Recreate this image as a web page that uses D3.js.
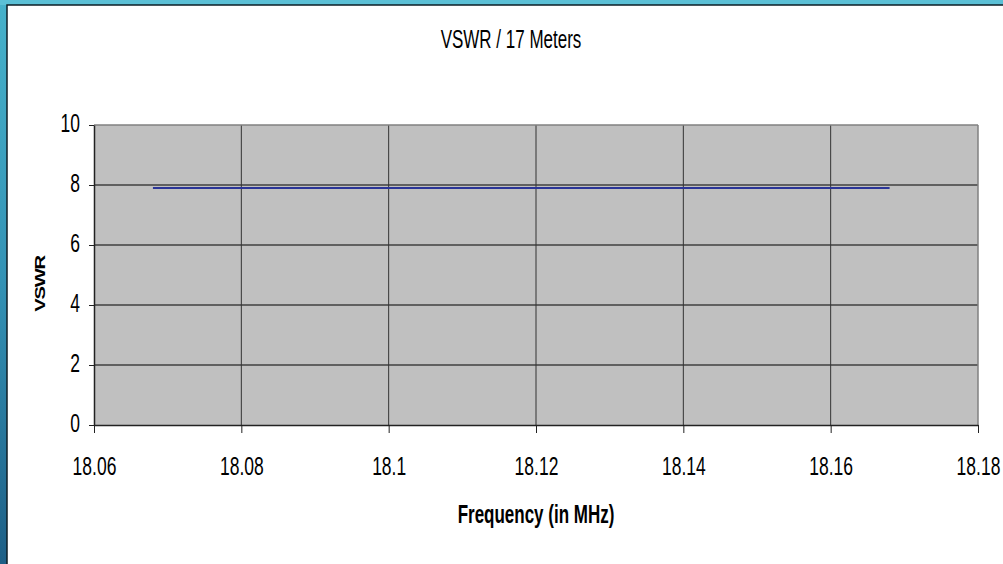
<!DOCTYPE html>
<html lang="en">
<head>
    <meta charset="utf-8">
    <style>
        body { margin: 0; overflow: hidden; }
        svg { display: block; }
        text { font-family: "Liberation Sans", Arial, sans-serif; fill: #000; }
    </style>
</head>
<body>
    <svg width="1003" height="564"></svg>
    <script src="https://cdn.jsdelivr.net/npm/d3@7"></script>
    <script>
        // Data
        const freqs = [18.068, 18.078, 18.088, 18.098, 18.108, 18.118, 18.128, 18.138, 18.148, 18.158, 18.168];
        const vswr  = [7.9, 7.9, 7.9, 7.9, 7.9, 7.9, 7.9, 7.9, 7.9, 7.9, 7.9];
        const xTicks = [18.06, 18.08, 18.1, 18.12, 18.14, 18.16, 18.18];
        const yTicks = [0, 2, 4, 6, 8, 10];

        const svg = d3.select("svg");
        const W = 1003, H = 564;
        const narrow = 0.7; // no condensed font installed, squeeze glyphs instead

        /************************************************************************************
        * Frame
        ************************************************************************************/
        const defs = svg.append("defs");
        const grad = defs.append("linearGradient").attr("id", "frameGrad")
            .attr("x1", 0).attr("y1", 0).attr("x2", 0).attr("y2", 1);
        grad.append("stop").attr("offset", "0%").attr("stop-color", "#46b2cb");
        grad.append("stop").attr("offset", "50%").attr("stop-color", "#3392b5");
        grad.append("stop").attr("offset", "100%").attr("stop-color", "#1d5f86");

        svg.append("rect").attr("width", W).attr("height", H).attr("fill", "url(#frameGrad)");
        svg.append("rect").attr("x", 0).attr("y", 0).attr("width", W).attr("height", 5).attr("fill", "#5bc0d6");
        // white panel; its right and bottom edges run off the page
        svg.append("rect").attr("x", 7).attr("y", 5).attr("width", W + 10).attr("height", H + 10)
            .attr("fill", "#fff").attr("stroke", "#0d1e26").attr("stroke-width", 1.5);

        /************************************************************************************
        * Plot area
        ************************************************************************************/
        const plotL = 94, plotR = 978, plotT = 125, plotB = 425;
        const x = d3.scaleLinear().domain([18.06, 18.18]).range([plotL, plotR]);
        const y = d3.scaleLinear().domain([0, 10]).range([plotB, plotT]);

        svg.append("rect").attr("x", plotL).attr("y", plotT)
            .attr("width", plotR - plotL).attr("height", plotB - plotT)
            .attr("fill", "#c0c0c0");

        // Grid lines
        svg.append("g").selectAll("line").data(yTicks.filter(d => d > 0 && d < 10)).join("line")
            .attr("x1", plotL).attr("x2", plotR)
            .attr("y1", d => y(d)).attr("y2", d => y(d))
            .attr("stroke", "#000").attr("stroke-width", 1);
        svg.append("g").selectAll("line").data(xTicks.filter(d => d > 18.06 && d < 18.18)).join("line")
            .attr("x1", d => x(d)).attr("x2", d => x(d))
            .attr("y1", plotT).attr("y2", plotB)
            .attr("stroke", "#333").attr("stroke-width", 1);

        // Plot border (top and right)
        svg.append("line").attr("x1", plotL).attr("x2", plotR).attr("y1", plotT).attr("y2", plotT)
            .attr("stroke", "#808080").attr("stroke-width", 1.5);
        svg.append("line").attr("x1", plotR).attr("x2", plotR).attr("y1", plotT).attr("y2", plotB)
            .attr("stroke", "#808080").attr("stroke-width", 1.5);

        /************************************************************************************
        * Axes
        ************************************************************************************/
        const yAxis = svg.append("g").attr("transform", `translate(${plotL},0)`)
            .call(d3.axisLeft(y).tickValues(yTicks).tickSize(5).tickSizeOuter(0).tickPadding(15)
                .tickFormat(d3.format("d")));
        const xAxis = svg.append("g").attr("transform", `translate(0,${plotB})`)
            .call(d3.axisBottom(x).tickValues(xTicks).tickSize(8).tickSizeOuter(0).tickPadding(24)
                .tickFormat(d => String(d)));
        [yAxis, xAxis].forEach(a => {
            a.select(".domain").attr("stroke", "#222").attr("stroke-width", 1.5);
            a.selectAll(".tick line").attr("stroke", "#222");
            a.selectAll(".tick text")
                .attr("font-size", 25)
                .attr("font-family", "\"Liberation Sans\", Arial, sans-serif")
                .attr("fill", "#000")
                .attr("transform", `scale(${narrow},1)`);
        });
        yAxis.selectAll(".tick text").attr("dy", "0.25em");

        /************************************************************************************
        * Line
        ************************************************************************************/
        const line = d3.line().x((d, i) => x(freqs[i])).y(d => y(d));
        svg.append("path").datum(vswr)
            .attr("d", line)
            .attr("fill", "none")
            .attr("stroke", "#2b3598")
            .attr("stroke-width", 2);

        /************************************************************************************
        * Titles
        ************************************************************************************/
        svg.append("text").attr("transform", `translate(511,48) scale(0.68,1)`)
            .attr("text-anchor", "middle").attr("font-size", 25)
            .text("VSWR / 17 Meters");
        svg.append("text").attr("transform", `translate(536,523) scale(0.68,1)`)
            .attr("text-anchor", "middle").attr("font-size", 25).attr("font-weight", "bold")
            .text("Frequency (in MHz)");
        svg.append("text").attr("transform", "translate(45,284) rotate(-90) scale(1.35,1)")
            .attr("text-anchor", "middle").attr("font-size", 15).attr("font-weight", "bold")
            .attr("letter-spacing", -1).text("VSWR");
    </script>
</body>
</html>
